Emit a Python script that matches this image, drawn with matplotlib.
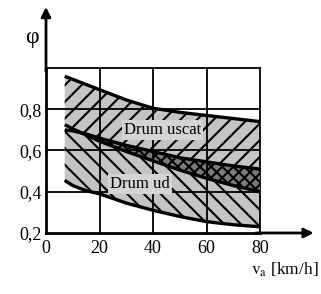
# friction coefficient vs speed, dry / wet road bands

import matplotlib.pyplot as plt
import numpy as np

plt.rcParams['font.family'] = 'Liberation Serif'
plt.rcParams['mathtext.fontset'] = 'stix'
plt.rcParams['hatch.linewidth'] = 1.5

# data
speed = [7, 10, 15, 20, 30, 40, 50, 60, 70, 80]
dry_upper = [0.96, 0.945, 0.92, 0.895, 0.845, 0.805, 0.785, 0.77, 0.755, 0.74]
dry_lower = [0.725, 0.705, 0.675, 0.645, 0.595, 0.55, 0.505, 0.465, 0.43, 0.40]
wet_upper = [0.70, 0.695, 0.68, 0.66, 0.625, 0.595, 0.565, 0.545, 0.525, 0.51]
wet_lower = [0.455, 0.43, 0.405, 0.39, 0.345, 0.31, 0.28, 0.255, 0.24, 0.23]

x_ticks = [0, 20, 40, 60, 80]
y_ticks = [0.2, 0.4, 0.6, 0.8]
y_labels = ['0,2', '0,4', '0,6', '0,8']

fig = plt.figure(figsize=(3.21, 2.94), dpi=100)
ax = fig.add_axes([0.1433, 0.2075, 0.667, 0.5612])

v = np.array(speed)
du = np.array(dry_upper)
dl = np.array(dry_lower)
wu = np.array(wet_upper)
wl = np.array(wet_lower)

# dry road band
ax.fill_between(v, dl, du, facecolor='#c4c4c4', edgecolor='black',
                hatch='//', linewidth=0, zorder=1)
# wet road band
ax.fill_between(v, wl, wu, facecolor='#c4c4c4', edgecolor='black',
                hatch='\\\\', linewidth=0, zorder=2)
# overlap
ax.fill_between(v, dl, wu, where=wu > dl, interpolate=True,
                facecolor='#7a7a7a', edgecolor='black', hatch='xxx',
                linewidth=0, zorder=3)

for curve in [du, dl, wu, wl]:
    ax.plot(v, curve, color='black', linewidth=2.4, zorder=5,
            solid_capstyle='butt')

# grid
for xv in x_ticks[1:-1]:
    ax.axvline(xv, color='black', linewidth=1.3, zorder=4)
for yv in [0.4, 0.6, 0.8]:
    ax.axhline(yv, color='black', linewidth=1.3, zorder=4)

ax.set_xlim(0, 80)
ax.set_ylim(0.2, 1.0)
ax.set_xticks(x_ticks)
ax.set_yticks(y_ticks)
ax.set_yticklabels(y_labels)
ax.tick_params(length=0, labelsize=13)
ax.tick_params(axis='x', pad=5)
ax.tick_params(axis='y', pad=3)

ax.spines['top'].set_linewidth(1.3)
ax.spines['right'].set_linewidth(1.3)
ax.spines['left'].set_linewidth(2.0)
ax.spines['bottom'].set_linewidth(2.0)

# axis arrows
ax.annotate('', xy=(0, 1.37), xytext=(0, 0.98), xycoords='axes fraction',
            arrowprops=dict(arrowstyle='-|>', lw=2.0, color='black',
                            mutation_scale=14, shrinkA=0, shrinkB=0))
ax.annotate('', xy=(1.25, 0), xytext=(0.98, 0), xycoords='axes fraction',
            arrowprops=dict(arrowstyle='-|>', lw=2.0, color='black',
                            mutation_scale=14, shrinkA=0, shrinkB=0))

# band labels
box = dict(facecolor='#d4d4d4', edgecolor='none', pad=1.5)
ax.text(43.4, 0.70, 'Drum uscat', fontsize=12, ha='center', va='center',
        bbox=box, zorder=10)
ax.text(35, 0.438, 'Drum ud', fontsize=12, ha='center', va='center',
        bbox=box, zorder=10)

fig.text(0.10, 0.872, '\u03c6', fontsize=17, ha='center', va='center')
fig.text(0.887, 0.082, r'$\mathrm{v_{a}}$ [km/h]', fontsize=12.5,
         ha='center', va='center')

plt.savefig('out.png', dpi=100)
plt.close()
